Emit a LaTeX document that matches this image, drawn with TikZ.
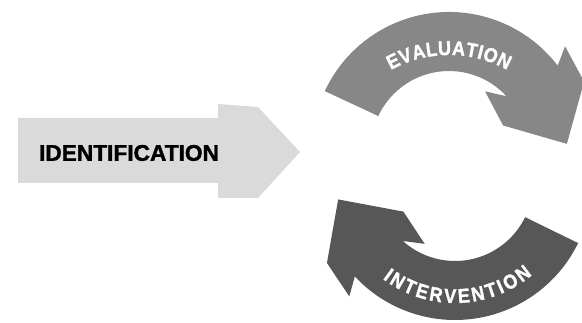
\documentclass[tikz,border=0pt]{standalone}
\usepackage{fontspec}
\setmainfont{Liberation Sans}[BoldFeatures={FakeBold=1.5}]
\usetikzlibrary{calc}

\definecolor{identgray}{RGB}{218,218,218}
\definecolor{evalgray}{RGB}{135,135,135}
\definecolor{intergray}{RGB}{87,87,87}

% one bent arrow of the loop: #1 tail angle, #2 head angle (runs clockwise)
\newcommand{\bentarrow}[2]{%
  (#1:137) arc[start angle=#1, end angle=#2-2.5, radius=137]
  -- (#2+1.5:155) -- (#2-13.5:151) -- (#2-37.5:118)
  -- (#2-16.5:59) -- (#2+18:68) -- (#2+2.5:78)
  arc[start angle=#2+2.5, end angle=#1, radius=78] -- cycle}

\tikzset{
  stagelabel/.style={
    font=\bfseries\fontsize{22.7}{24}\selectfont,
    text=black,
    inner sep=0pt
  },
  looplabel/.style={
    font=\bfseries\fontsize{20}{20}\selectfont,
    text=white,
    anchor=base,
    inner sep=0pt
  }
}

\begin{document}
\begin{tikzpicture}[x=1pt,y=1pt]
  \clip (0,0) rectangle (582,322);

  % straight arrow
  \fill[identgray] (18,204) -- (218,204) -- (218,218) -- (258,215) -- (300,170)
    -- (258,124) -- (218,124) -- (218,139) -- (18,139) -- cycle;
  \node[stagelabel] (ident) at (129,169) {IDENTIFICATION};

  % loop of two bent arrows
  \coordinate (evalc) at (449,173);
  \coordinate (interc) at (455,139);
  \fill[evalgray,shift={(evalc)}] \bentarrow{155}{40};
  \fill[intergray,shift={(interc)}] \bentarrow{-26}{-134.5};

  % letters set one by one along the arcs (\pos = letter centre in em)
  \coordinate (evaltxt) at (449,147);
  \foreach \ch/\pos [count=\i from 0] in {E/0.334,V/1.0,A/1.695,L/2.362,U/3.028,
      A/3.75,T/4.417,I/4.861,O/5.389,N/6.139}{
    \pgfmathsetmacro{\ang}{90-((\pos-3.25)*18+(\i-4.5)*0.5)*57.2958/120}
    \node[looplabel,rotate=\ang-90,xscale=0.9] (ev\i) at ($(evaltxt)+(\ang:120)$) {\ch};
  }
  \foreach \ch/\pos [count=\i from 0] in {I/0.139,N/0.639,T/1.306,E/1.945,R/2.639,
      V/3.334,E/4.0,N/4.695,T/5.362,I/5.806,O/6.334,N/7.084}{
    \pgfmathsetmacro{\ang}{-88.5+((\pos-3.7225)*18+(\i-5.5)*2.5)*57.2958/120}
    \node[looplabel,rotate=\ang+90,xscale=0.9] (iv\i) at ($(interc)+(\ang:120)$) {\ch};
  }
\end{tikzpicture}
\end{document}
